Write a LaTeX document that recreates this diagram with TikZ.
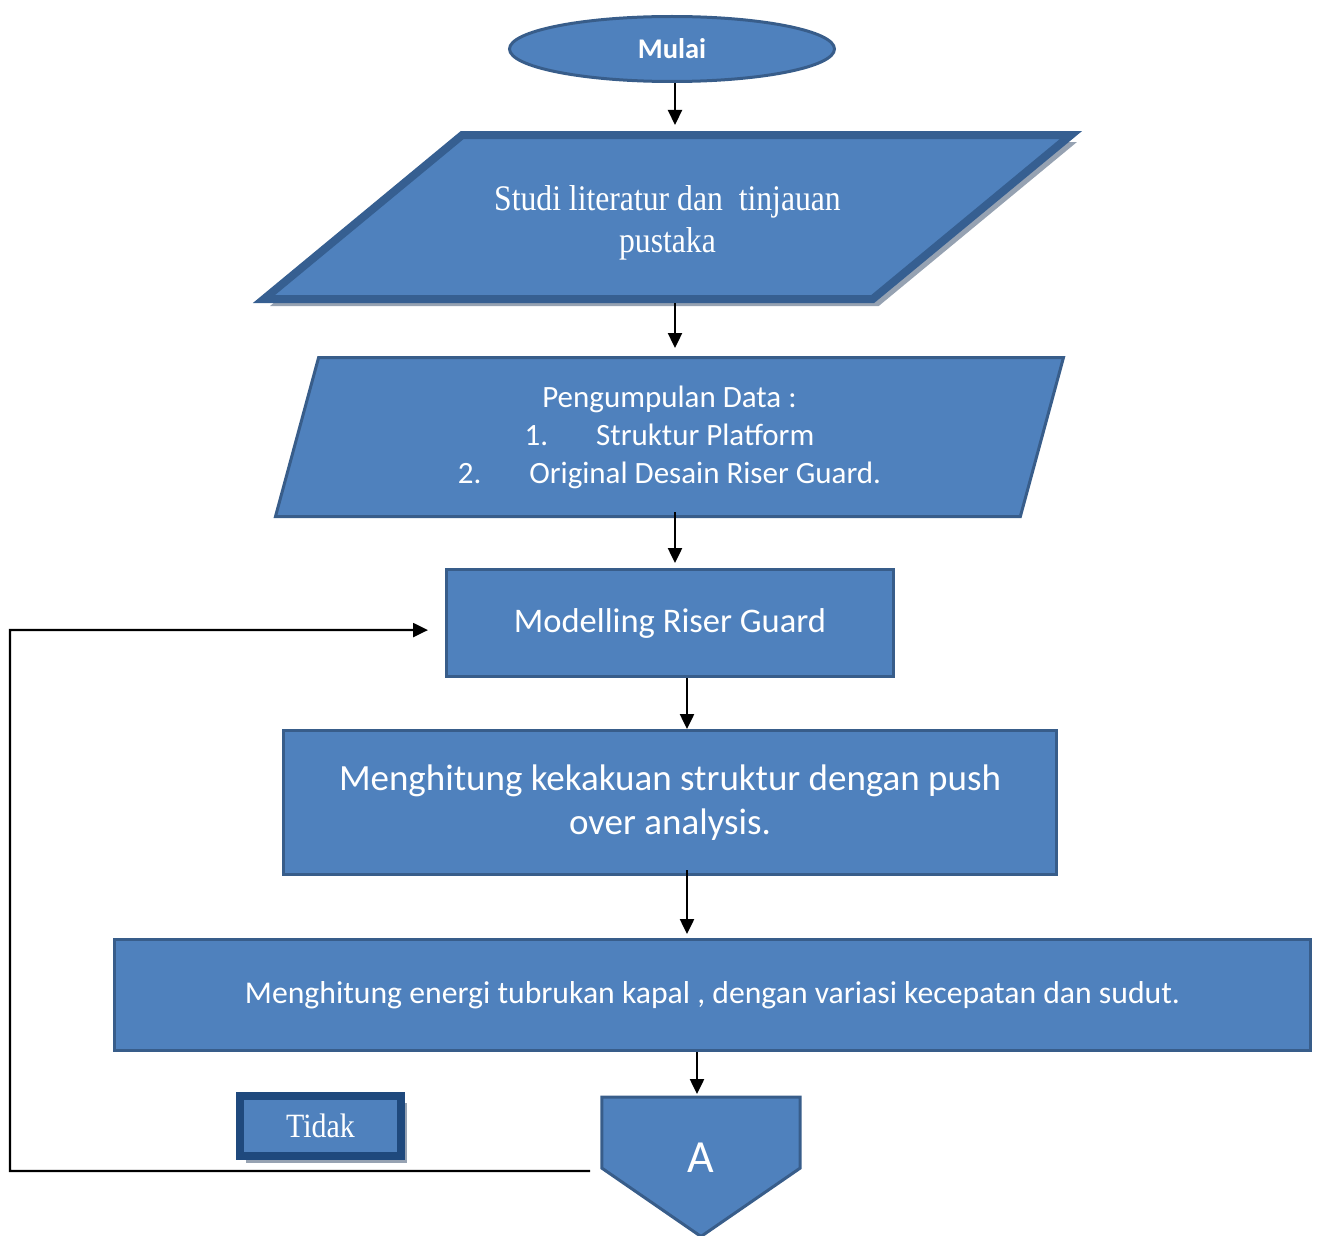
\documentclass[tikz,border=0pt]{standalone}
\usepackage{fontspec}
\newfontfamily\calibri{Carlito}
\newfontfamily\timesn[FakeStretch=0.88]{Liberation Serif}
\usepackage{xcolor}
\definecolor{flowblue}{RGB}{79,129,189}
\definecolor{flowline}{RGB}{56,93,138}
\definecolor{flowdark}{RGB}{54,95,145}
\definecolor{tagdark}{RGB}{31,73,125}
\definecolor{shadowgray}{RGB}{150,162,178}
\usetikzlibrary{shapes.geometric,arrows.meta,positioning,shadows,backgrounds}

\begin{document}
\begin{tikzpicture}[x=1pt,y=-1pt,
  box/.style={draw=flowline,fill=flowblue,line width=3pt,text=white,align=center,
    font=\calibri},
  iobox/.style={box,trapezium,trapezium stretches body},
  heavy/.style={line width=8pt,drop shadow={shadow xshift=6pt,shadow yshift=-7pt,
    fill=shadowgray,opacity=1}},
  arr/.style={-{Triangle[length=15pt,width=14pt]},line width=2.2pt}]
  \useasboundingbox (0,0) rectangle (1320,1236);
  \node[box,ellipse,minimum width=325pt,minimum height=65pt,
    font=\calibri\bfseries\fontsize{28.5}{34}\selectfont](mulai) at (672,49){Mulai};
  \node[iobox,heavy,draw=flowdark,trapezium left angle=22.3,trapezium right angle=157.7,
    minimum width=807pt,minimum height=164pt,font=\timesn\fontsize{36}{42}\selectfont,
    below=48pt of mulai,xshift=-4.5pt](studi){\raisebox{-6pt}[\height][\depth]{Studi literatur dan~ tinjauan}\\
    \raisebox{-6pt}[\height][\depth]{pustaka}};
  \node[iobox,trapezium left angle=68.5,trapezium right angle=111.5,
    minimum width=788pt,minimum height=159pt,font=\calibri\fontsize{31}{38}\selectfont,
    below=53pt of studi,xshift=2pt](data){Pengumpulan Data :\\
    1.\hspace{48pt}Struktur Platform\\2.\hspace{48pt}Original Desain Riser Guard.};
  \node[box,minimum width=447pt,minimum height=107pt,font=\calibri\fontsize{34.5}{40}\selectfont,
    below=50pt of data,xshift=0.5pt](model){Modelling Riser Guard};
  \node[box,minimum width=773pt,minimum height=144pt,font=\calibri\fontsize{37}{44}\selectfont,
    below=51pt of model](kaku){Menghitung kekakuan struktur dengan push\\over analysis.};
  \node[box,minimum width=1196pt,minimum height=111pt,font=\calibri\fontsize{31.7}{37}\selectfont,
    below=62pt of kaku,xshift=42.5pt](energi){Menghitung energi tubrukan kapal , dengan variasi kecepatan dan sudut.};
  \node[text=white,minimum width=198pt,minimum height=139pt,
    font=\calibri\fontsize{46}{52}\selectfont,
    below=45pt of energi,xshift=-11.5pt](conA){\raisebox{9pt}[\height][\depth]{A}};
  \begin{scope}[on background layer]
    \draw[box](conA.north west)--(conA.north east)--([yshift=-71pt]conA.north east)
      --(conA.south)--([yshift=-71pt]conA.north west)--cycle;
  \end{scope}
  \node[box,heavy,draw=tagdark,minimum width=161pt,minimum height=60pt,
    font=\timesn\fontsize{34}{40}\selectfont](tidak) at (320.5,1126){Tidak};
  \coordinate (ret) at (590,1171);
  \coordinate (bend) at (10,630);
  \draw[arr,shorten >=6pt]([xshift=3pt]mulai.south)--([xshift=3pt]mulai.south |- studi.north);
  \draw[arr,shorten >=8pt]([xshift=7.5pt]studi.south)--([xshift=7.5pt]studi.south |- data.north);
  \draw[arr,shorten <=-6pt,shorten >=5pt]([xshift=5.5pt]data.south)--([xshift=5.5pt]data.south |- model.north);
  \draw[arr]([xshift=17pt]model.south)--([xshift=17pt]model.south |- kaku.north);
  \draw[arr,shorten <=-6pt,shorten >=4pt]([xshift=17pt]kaku.south)--([xshift=17pt]kaku.south |- energi.north);
  \draw[arr,shorten >=3pt]([xshift=-15.5pt]energi.south)--([xshift=-15.5pt]energi.south |- conA.north);
  \draw[arr](ret)-|(bend)--([xshift=-17pt,yshift=-7pt]model.west);
\end{tikzpicture}
\end{document}
